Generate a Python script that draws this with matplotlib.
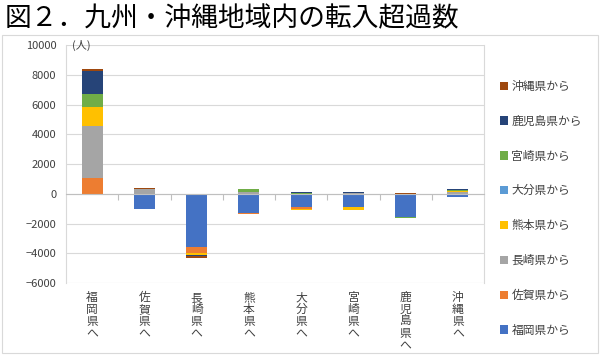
import numpy as np
import matplotlib.pyplot as plt
from matplotlib.patches import Rectangle

plt.rcParams['font.family'] = ['Noto Sans CJK JP', 'DejaVu Sans']

# destinations (x categories)
dest = ['福岡県へ', '佐賀県へ', '長崎県へ', '熊本県へ', '大分県へ', '宮崎県へ', '鹿児島県へ', '沖縄県へ']

# net inflow by origin, one list per series (values per destination)
from_fukuoka = [0, -1050, -3550, -1300, -900, -920, -1550, -200]
from_saga = [1050, 0, -400, -50, -150, 0, 0, -30]
from_nagasaki = [3500, 350, 0, 150, 0, 40, 0, 150]
from_kumamoto = [1300, 0, -200, 0, -50, -150, 0, 40]
from_oita = [0, 0, 0, 0, 0, 0, 0, 20]
from_miyazaki = [870, 0, 0, 150, 50, 0, -80, 30]
from_kagoshima = [1500, 0, -30, 30, 50, 80, 0, 50]
from_okinawa = [150, 50, -150, 0, 0, 0, 30, 0]

series = [from_fukuoka, from_saga, from_nagasaki, from_kumamoto,
          from_oita, from_miyazaki, from_kagoshima, from_okinawa]
names = ['福岡県から', '佐賀県から', '長崎県から', '熊本県から',
         '大分県から', '宮崎県から', '鹿児島県から', '沖縄県から']
colors = ['#4472C4', '#ED7D31', '#A5A5A5', '#FFC000',
          '#5B9BD5', '#70AD47', '#264478', '#9E480E']

fig = plt.figure(figsize=(6, 3.55), dpi=100)
ax = fig.add_axes([0.11, 0.2028, 0.6967, 0.6704])

x = np.arange(len(dest))
pos_base = np.zeros(len(dest))
neg_base = np.zeros(len(dest))
handles = []
for vals, name, c in zip(series, names, colors):
    v = np.array(vals, dtype=float)
    p = np.where(v > 0, v, 0)
    n = np.where(v < 0, v, 0)
    h = ax.bar(x, p, 0.4, bottom=pos_base, color=c, label=name, zorder=3)
    ax.bar(x, n, 0.4, bottom=neg_base, color=c, zorder=3)
    pos_base += p
    neg_base += n
    handles.append(h)

ax.set_xlim(-0.5, len(dest) - 0.5)
ax.set_ylim(-6000, 10000)
ax.set_yticks(np.arange(-6000, 10001, 2000))
ax.tick_params(axis='y', length=0, labelsize=8, colors='#404040', pad=7)
ax.grid(axis='y', color='#D9D9D9', linewidth=0.8, zorder=0)

for s in ['top', 'right', 'left']:
    ax.spines[s].set_visible(False)
ax.spines['left'].set_visible(True)
ax.spines['left'].set_color('#D9D9D9')
ax.spines['right'].set_visible(True)
ax.spines['right'].set_color('#D9D9D9')
ax.spines['bottom'].set_position(('data', 0))
ax.spines['bottom'].set_color('#BFBFBF')
ax.spines['bottom'].set_zorder(4)
ax.set_xticks(np.arange(0.5, len(dest) - 1, 1.0))
ax.tick_params(axis='x', length=4, color='#BFBFBF', labelbottom=False)

for i, d in enumerate(dest):
    ax.text(i, -0.035, '\n'.join(d), transform=ax.get_xaxis_transform(),
            ha='center', va='top', fontsize=8.5, color='#404040', linespacing=0.9)

ax.text(0.015, 1.0, '(人)', transform=ax.transAxes, ha='left', va='center',
        fontsize=8, color='#404040')

fig.text(0.008, 0.948, '図２．九州・沖縄地域内の転入超過数', fontsize=19.3,
         ha='left', va='center', color='#000000')

fig.legend(handles[::-1], names[::-1], loc='upper left',
           bbox_to_anchor=(0.815, 0.805), frameon=False, fontsize=8.5,
           handlelength=0.7, handleheight=0.7, handletextpad=0.3,
           labelspacing=1.85, labelcolor='#404040')

fig.add_artist(Rectangle((0.004, 0.006), 0.992, 0.895, transform=fig.transFigure,
                         fill=False, edgecolor='#D9D9D9', linewidth=0.8))

fig.savefig('out.png', dpi=100)
